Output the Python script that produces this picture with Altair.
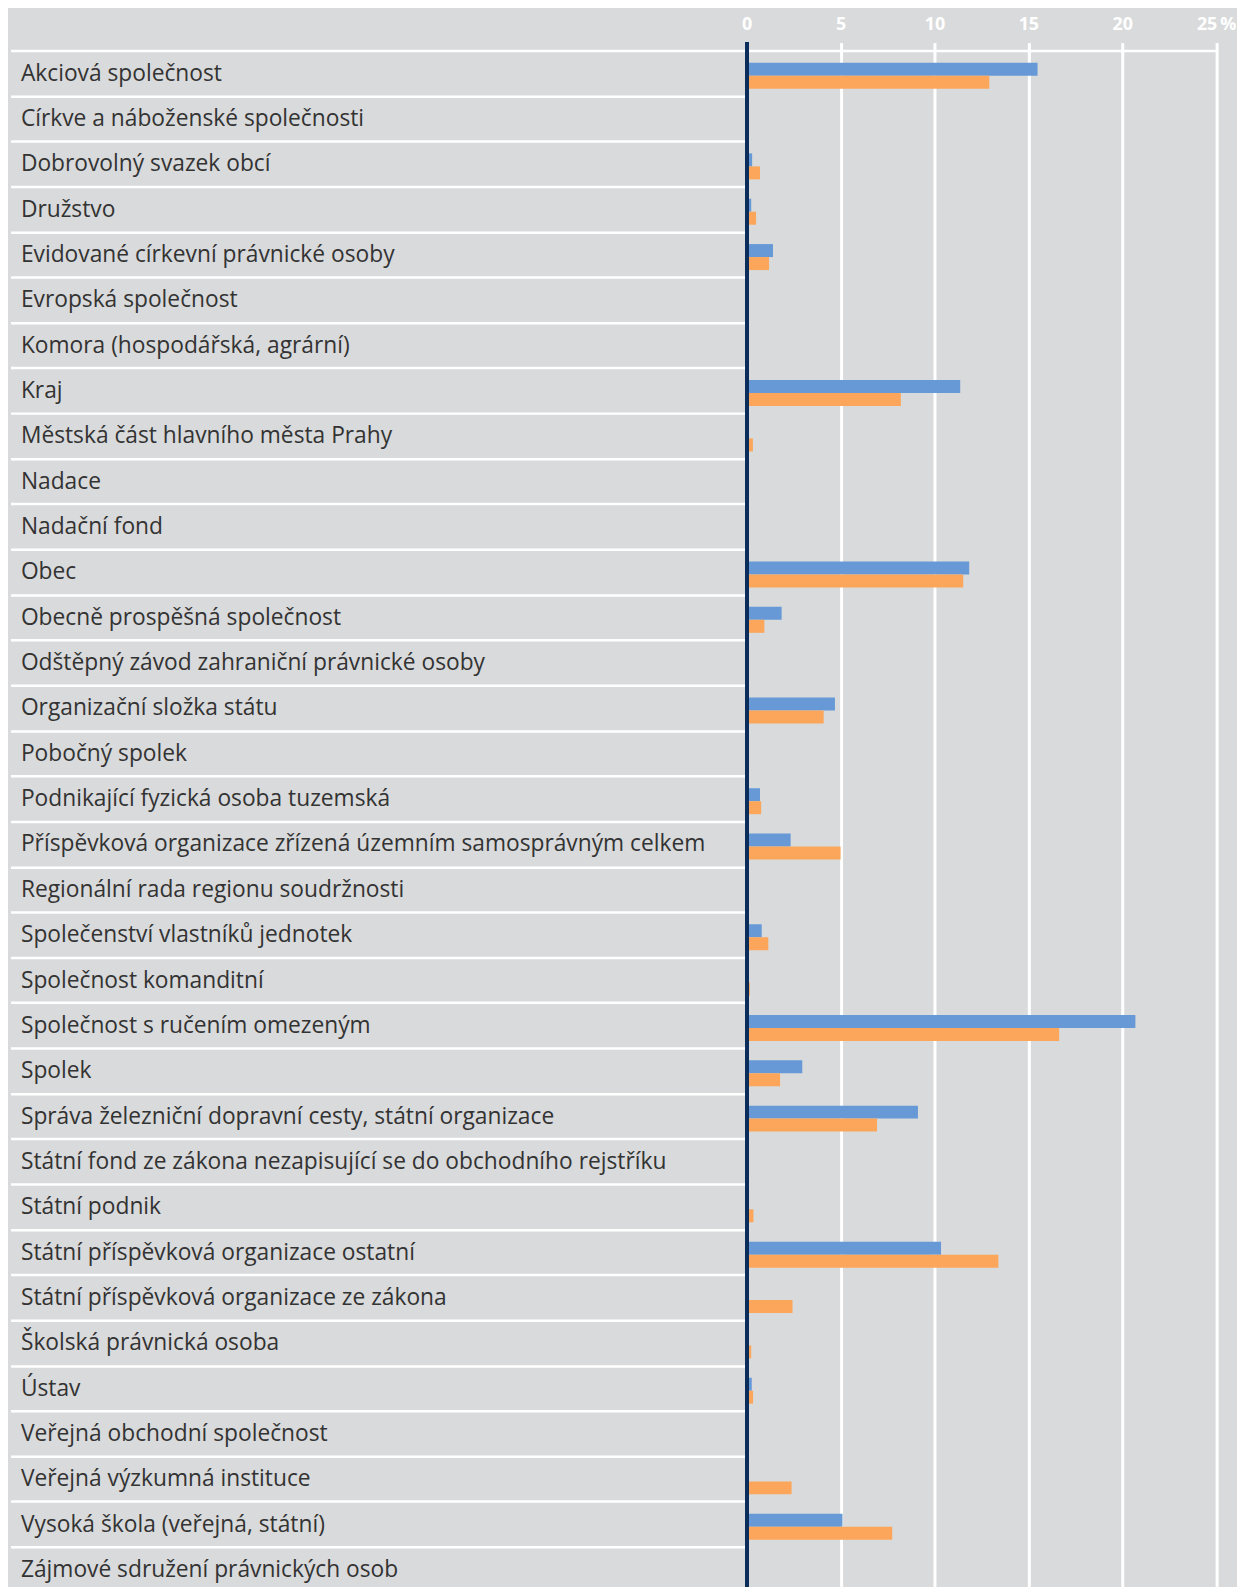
import altair as alt
import pandas as pd

categories = [
    "Akciová společnost",
    "Církve a náboženské společnosti",
    "Dobrovolný svazek obcí",
    "Družstvo",
    "Evidované církevní právnické osoby",
    "Evropská společnost",
    "Komora (hospodářská, agrární)",
    "Kraj",
    "Městská část hlavního města Prahy",
    "Nadace",
    "Nadační fond",
    "Obec",
    "Obecně prospěšná společnost",
    "Odštěpný závod zahraniční právnické osoby",
    "Organizační složka státu",
    "Pobočný spolek",
    "Podnikající fyzická osoba tuzemská",
    "Příspěvková organizace zřízená územním samosprávným celkem",
    "Regionální rada regionu soudržnosti",
    "Společenství vlastníků jednotek",
    "Společnost komanditní",
    "Společnost s ručením omezeným",
    "Spolek",
    "Správa železniční dopravní cesty, státní organizace",
    "Státní fond ze zákona nezapisující se do obchodního rejstříku",
    "Státní podnik",
    "Státní příspěvková organizace ostatní",
    "Státní příspěvková organizace ze zákona",
    "Školská právnická osoba",
    "Ústav",
    "Veřejná obchodní společnost",
    "Veřejná výzkumná instituce",
    "Vysoká škola (veřejná, státní)",
    "Zájmové sdružení právnických osob",
]

series_names = ["Série 1", "Série 2"]

values_blue = [
    15.49, 0.0, 0.29, 0.24, 1.40, 0.0, 0.0, 11.37, 0.0, 0.0, 0.0, 11.85,
    1.86, 0.0, 4.70, 0.04, 0.71, 2.34, 0.0, 0.80, 0.0, 20.70, 2.96, 9.12,
    0.0, 0.0, 10.35, 0.0, 0.04, 0.27, 0.0, 0.0, 5.10, 0.04,
]
values_orange = [
    12.92, 0.0, 0.71, 0.50, 1.19, 0.0, 0.0, 8.21, 0.33, 0.0, 0.0, 11.53,
    0.94, 0.05, 4.10, 0.07, 0.77, 5.00, 0.07, 1.15, 0.17, 16.64, 1.78, 6.94,
    0.04, 0.36, 13.40, 2.44, 0.24, 0.34, 0.03, 2.39, 7.75, 0.05,
]

colors = ["#6699d6", "#fba65a"]

rows = []
for c, b, o in zip(categories, values_blue, values_orange):
    rows.append({"category": c, "series": series_names[0], "value": b})
    rows.append({"category": c, "series": series_names[1], "value": o})
df = pd.DataFrame(rows)

BG = "#d9dadb"
W = 472.5
ROW = 45.64
H = ROW * len(categories)

bars = alt.Chart(df).mark_bar().encode(
    x=alt.X(
        "value:Q",
        scale=alt.Scale(domain=[0, 25], nice=False),
        axis=alt.Axis(
            orient="top",
            values=[0, 5, 10, 15, 20, 25],
            title=None,
            labelExpr="datum.value == 25 ? '25\u2009%' : datum.label",
            labelColor="white",
            labelFont="Open Sans",
            labelFontWeight="bold",
            labelFontSize=18,
            labelPadding=9.5,
            labelFlush=False,
            domainColor="white",
            domainWidth=2.5,
            tickColor="white",
            tickSize=8,
            tickWidth=3,
            gridColor="white",
            gridWidth=3,
            gridOpacity=1,
        ),
    ),
    y=alt.Y(
        "category:N",
        sort=categories,
        scale=alt.Scale(paddingInner=0, paddingOuter=0, round=False),
        axis=alt.Axis(
            title=None,
            domain=False,
            grid=False,
            ticks=True,
            tickBand="extent",
            tickColor="white",
            tickWidth=2.5,
            tickSize=741,
            labelAlign="left",
            labelBaseline="middle",
            labelPadding=-10,
            labelLimit=0,
            labelFont="Open Sans",
            labelFontSize=22.9,
            labelColor="#333333",
        ),
    ),
    yOffset=alt.YOffset(
        "series:N",
        sort=series_names,
        scale=alt.Scale(paddingInner=0, paddingOuter=0.746, align=0.63, round=False),
    ),
    color=alt.Color(
        "series:N",
        sort=series_names,
        scale=alt.Scale(domain=series_names, range=colors),
        legend=None,
    ),
)

zero_line = alt.Chart(df).mark_rule(color="#0b2d5c", strokeWidth=3).encode(
    x=alt.datum(0),
    y=alt.value(-8),
    y2=alt.value(H),
)

chart = (
    alt.layer(bars, zero_line)
    .properties(
        width=W,
        height=H,
        padding={"left": 743.5, "top": 37.6, "right": 21, "bottom": 0},
        autosize=alt.AutoSizeParams(type="none"),
        background=BG,
    )
    .configure_view(strokeWidth=0)
)

chart.save("out.html", embed_options={"renderer": "svg", "actions": False})
